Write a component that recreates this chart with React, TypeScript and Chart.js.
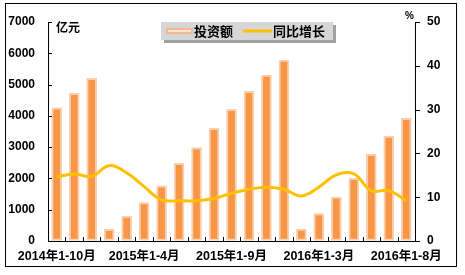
import React, { useEffect, useRef } from "react";
import { Chart, registerables } from "chart.js";

Chart.register(...registerables);

const categories = [
  "2014年1-10月", "2014年1-11月", "2014年1-12月",
  "2015年1-2月", "2015年1-3月", "2015年1-4月", "2015年1-5月", "2015年1-6月", "2015年1-7月",
  "2015年1-8月", "2015年1-9月", "2015年1-10月", "2015年1-11月", "2015年1-12月",
  "2016年1-2月", "2016年1-3月", "2016年1-4月", "2016年1-5月", "2016年1-6月", "2016年1-7月", "2016年1-8月",
];
const investment = [
  4260, 4720, 5200,
  370, 800, 1225, 1760, 2480, 2990, 3600, 4210, 4785, 5305, 5785,
  380, 880, 1400, 2000, 2770, 3350, 3920,
];
const growth = [
  14.7, 15.3, 14.8,
  17.2, 15.6, 12.4, 9.4, 9.2, 9.2, 9.7, 10.9, 11.8, 12.3, 11.8,
  10.3, 12.3, 15.1, 15.3, 11.5, 11.5, 9.2,
];
const leftTicks = [0, 1000, 2000, 3000, 4000, 5000, 6000, 7000];
const rightTicks = [0, 10, 20, 30, 40, 50];
const legendLabels = ["投资额", "同比增长"];
const leftUnit = "亿元";
const rightUnit = "%";

const BAR_FILL = "#F79646";
const BAR_BORDER = "#FBCFAE";
const LINE_COLOR = "#FFC000";
const LATIN = "'Liberation Sans', Arial";
const CJK = "'Noto Sans CJK SC', sans-serif";
const TICK_FONT = { family: `${LATIN}, sans-serif`, size: 12, weight: "bold" as const };

const decorPlugin = {
  id: "decor",
  afterDraw(chart: any) {
    const ctx = chart.ctx;
    const { left, right, top, bottom } = chart.chartArea;
    const x = chart.scales.x;
    const y = chart.scales.y;
    const y1 = chart.scales.y1;
    ctx.save();
    ctx.strokeStyle = "#000";
    ctx.lineWidth = 1;
    ctx.strokeRect(5.5, 3.5, 451, 263);
    ctx.beginPath();
    leftTicks.forEach((v) => {
      const py = Math.round(y.getPixelForValue(v)) + 0.5;
      ctx.moveTo(left, py);
      ctx.lineTo(left + 4, py);
    });
    rightTicks.forEach((v) => {
      const py = Math.round(y1.getPixelForValue(v)) + 0.5;
      ctx.moveTo(right, py);
      ctx.lineTo(right + 5, py);
    });
    const n = categories.length;
    for (let i = 0; i <= n; i++) {
      const px = Math.round(x.getPixelForValue(i - 0.5)) + 0.5;
      ctx.moveTo(px, bottom);
      ctx.lineTo(px, bottom - 4);
    }
    ctx.stroke();

    ctx.fillStyle = "#000";
    ctx.font = `bold 12px ${CJK}`;
    ctx.textBaseline = "middle";
    ctx.textAlign = "left";
    ctx.fillText(leftUnit, left + 8, top + 5);
    ctx.font = `bold 10px ${LATIN}, sans-serif`;
    ctx.textAlign = "right";
    ctx.fillText(rightUnit, right - 1, top - 6);

    const bx = 161, by = 22, bw = 172, bh = 18;
    ctx.fillStyle = "#A0A0A0";
    ctx.fillRect(bx + 3, by + 3, bw, bh);
    ctx.fillStyle = "#D6D6D6";
    ctx.fillRect(bx, by, bw, bh);
    const cy = by + bh / 2;
    ctx.fillStyle = "#F5B88C";
    ctx.fillRect(166, cy - 3, 27, 6);
    ctx.fillStyle = "#FCE3D0";
    ctx.fillRect(168, cy - 1, 23, 2);
    ctx.strokeStyle = LINE_COLOR;
    ctx.lineWidth = 3;
    ctx.beginPath();
    ctx.moveTo(243, cy);
    ctx.lineTo(272, cy);
    ctx.stroke();
    ctx.fillStyle = "#000";
    ctx.font = `bold 13px ${CJK}`;
    ctx.textAlign = "left";
    ctx.fillText(legendLabels[0], 194, cy + 0.5);
    ctx.fillText(legendLabels[1], 273, cy + 0.5);
    ctx.restore();
  },
};

export default function App() {
  const ref = useRef<HTMLCanvasElement>(null);
  useEffect(() => {
    if (!ref.current) return;
    const chart = new Chart(ref.current, {
      type: "bar",
      data: {
        labels: categories,
        datasets: [
          {
            type: "line",
            label: legendLabels[1],
            data: growth,
            yAxisID: "y1",
            borderColor: LINE_COLOR,
            borderWidth: 3,
            tension: 0.4,
            pointRadius: 0,
            fill: false,
            order: 0,
          } as any,
          {
            type: "bar",
            label: legendLabels[0],
            data: investment,
            yAxisID: "y",
            backgroundColor: BAR_FILL,
            borderColor: BAR_BORDER,
            borderWidth: 2,
            borderSkipped: false,
            barThickness: 10,
            order: 1,
          },
        ],
      },
      options: {
        responsive: false,
        animation: false,
        devicePixelRatio: 1,
        layout: { padding: { top: 22, left: 0, right: 0, bottom: 0 } },
        plugins: { legend: { display: false }, tooltip: { enabled: false } },
        scales: {
          x: {
            type: "category",
            offset: true,
            grid: { display: true, drawOnChartArea: false, drawTicks: false, offset: true },
            border: { display: true, color: "#000", width: 1 },
            ticks: {
              autoSkip: false,
              maxRotation: 0,
              minRotation: 0,
              padding: 8,
              color: "#000",
              font: { ...TICK_FONT, size: 12.5, family: `${LATIN}, ${CJK}` },
              callback: (_v: any, i: number) => (i % 5 === 0 ? categories[i] : ""),
            },
            afterFit: (s: any) => { s.height = 34; },
          },
          y: {
            position: "left",
            min: 0,
            max: 7000,
            grid: { display: true, drawOnChartArea: false, drawTicks: false },
            border: { display: true, color: "#000", width: 1 },
            ticks: {
              stepSize: 1000,
              padding: 13,
              color: "#000",
              font: TICK_FONT,
              callback: (v: any) => String(v),
            },
            afterFit: (s: any) => { s.width = 48; },
          },
          y1: {
            position: "right",
            min: 0,
            max: 50,
            grid: { display: true, drawOnChartArea: false, drawTicks: false },
            border: { display: true, color: "#000", width: 1 },
            ticks: {
              stepSize: 10,
              padding: 12,
              color: "#000",
              font: TICK_FONT,
              callback: (v: any) => String(v),
            },
            afterFit: (s: any) => { s.width = 50; },
          },
        },
      },
      plugins: [decorPlugin],
    });
    return () => chart.destroy();
  }, []);
  return (
    <div style={{ position: "absolute", left: 0, top: 0, width: 465, height: 275, background: "#fff" }}>
      <canvas ref={ref} width={465} height={275} />
    </div>
  );
}
